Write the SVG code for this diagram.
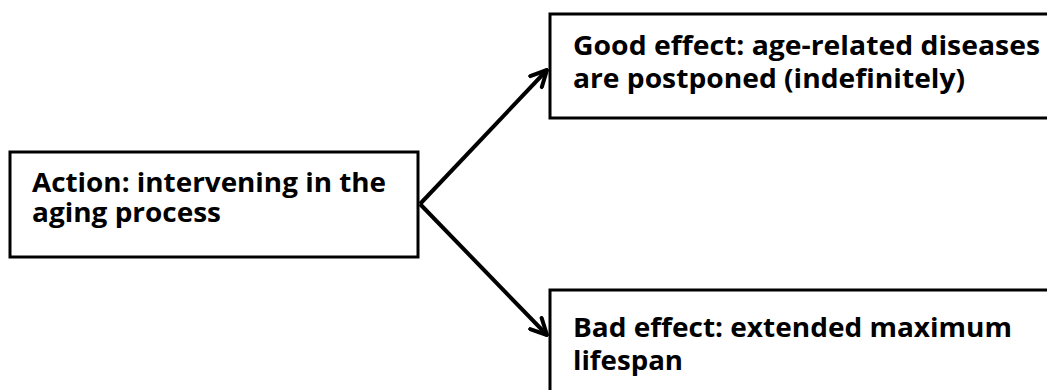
<svg xmlns="http://www.w3.org/2000/svg" width="1047" height="390" viewBox="0 0 1047 390">
<style>
.box{fill:#fff;stroke:#000;stroke-width:3}
.t{font-family:"Open Sans","Liberation Sans",sans-serif;font-weight:bold;font-size:27px;fill:#000}
.c{stroke:#000;stroke-width:4;fill:none}
</style>
<defs>
<marker id="ah" viewBox="0 0 10 10" refX="9" refY="5" markerWidth="5" markerHeight="5" orient="auto" markerUnits="strokeWidth">
<path d="M1,1 L9,5 L1,9" fill="none" stroke="#000" stroke-width="2" stroke-linecap="round" stroke-linejoin="round"/>
</marker>
</defs>
<rect width="1047" height="390" fill="#fff"/>
<g id="connectors">
<line class="c" x1="420" y1="204" x2="547" y2="70" marker-end="url(#ah)"/>
<line class="c" x1="420" y1="204" x2="547" y2="335" marker-end="url(#ah)"/>
</g>
<g id="action">
<rect class="box" x="10" y="152" width="408" height="105"/>
<text class="t" x="32" y="192" textLength="354" lengthAdjust="spacingAndGlyphs">Action: intervening in the</text>
<text class="t" x="32" y="222" textLength="189" lengthAdjust="spacingAndGlyphs">aging process</text>
</g>
<g id="good">
<rect class="box" x="550" y="14" width="510" height="104"/>
<text class="t" x="573" y="55" textLength="467" lengthAdjust="spacingAndGlyphs">Good effect: age-related diseases</text>
<text class="t" x="573" y="88" textLength="392" lengthAdjust="spacingAndGlyphs">are postponed (indefinitely)</text>
</g>
<g id="bad">
<rect class="box" x="550" y="290" width="510" height="110"/>
<text class="t" x="573" y="337" textLength="439" lengthAdjust="spacingAndGlyphs">Bad effect: extended maximum</text>
<text class="t" x="573" y="370" textLength="110" lengthAdjust="spacingAndGlyphs">lifespan</text>
</g>
</svg>
